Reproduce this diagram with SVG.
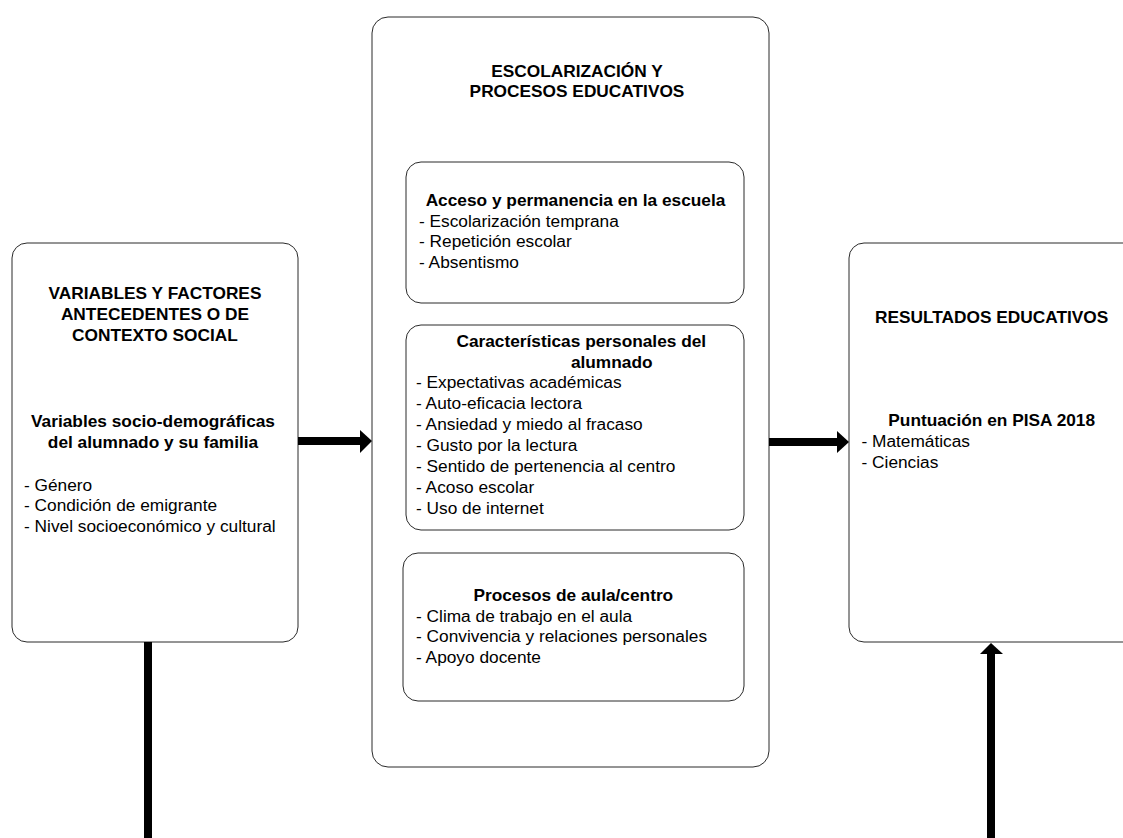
<svg xmlns="http://www.w3.org/2000/svg" width="1123" height="838" viewBox="0 0 1123 838">
<style>
.box{fill:#fff;stroke:#2a2a2a;stroke-width:1}
.t{font-family:"Liberation Sans",Arial,sans-serif;font-size:17.3px;fill:#000}
.b{font-weight:bold}
.c{text-anchor:middle}
.arr{fill:#000}
</style>
<rect width="1123" height="838" fill="#fff"/>
<g id="node-contexto">
<rect class="box" x="12" y="243" width="286" height="399" rx="15"/>
<text class="t b c" x="155" y="299">VARIABLES Y FACTORES</text>
<text class="t b c" x="155" y="320">ANTECEDENTES O DE</text>
<text class="t b c" x="155" y="341">CONTEXTO SOCIAL</text>
<text class="t b c" x="153" y="427">Variables socio-demográficas</text>
<text class="t b c" x="153" y="448">del alumnado y su familia</text>
<text class="t" x="24" y="490.5">- Género</text>
<text class="t" x="24" y="511.2">- Condición de emigrante</text>
<text class="t" x="24" y="532">- Nivel socioeconómico y cultural</text>
</g>
<g id="node-escolarizacion">
<rect class="box" x="372" y="17" width="397" height="750" rx="16"/>
<text class="t b c" x="577" y="76.5">ESCOLARIZACIÓN Y</text>
<text class="t b c" x="577" y="96.5">PROCESOS EDUCATIVOS</text>
</g>
<g id="node-acceso">
<rect class="box" x="406" y="162" width="338" height="141" rx="15"/>
<text class="t b c" x="575.5" y="206">Acceso y permanencia en la escuela</text>
<text class="t" x="419" y="226.7">- Escolarización temprana</text>
<text class="t" x="419" y="247.4">- Repetición escolar</text>
<text class="t" x="419" y="268.1">- Absentismo</text>
</g>
<g id="node-caracteristicas">
<rect class="box" x="406" y="325" width="338" height="205" rx="15"/>
<text class="t b c" x="581.3" y="347.3">Características personales del</text>
<text class="t b c" x="611.7" y="367.5">alumnado</text>
<text class="t" x="416" y="388.3">- Expectativas académicas</text>
<text class="t" x="416" y="409.3">- Auto-eficacia lectora</text>
<text class="t" x="416" y="430.3">- Ansiedad y miedo al fracaso</text>
<text class="t" x="416" y="451.3">- Gusto por la lectura</text>
<text class="t" x="416" y="472.3">- Sentido de pertenencia al centro</text>
<text class="t" x="416" y="493.3">- Acoso escolar</text>
<text class="t" x="416" y="514.3">- Uso de internet</text>
</g>
<g id="node-procesos">
<rect class="box" x="403" y="553" width="341" height="148" rx="15"/>
<text class="t b c" x="573.3" y="600.7">Procesos de aula/centro</text>
<text class="t" x="416" y="621.5">- Clima de trabajo en el aula</text>
<text class="t" x="416" y="642.3">- Convivencia y relaciones personales</text>
<text class="t" x="416" y="663">- Apoyo docente</text>
</g>
<g id="node-resultados">
<rect class="box" x="849" y="243" width="290" height="399" rx="15"/>
<text class="t b c" x="991.7" y="322.7">RESULTADOS EDUCATIVOS</text>
<text class="t b c" x="991.7" y="426">Puntuación en PISA 2018</text>
<text class="t" x="861.5" y="447">- Matemáticas</text>
<text class="t" x="861.5" y="467.8">- Ciencias</text>
</g>
<g id="connectors">
<rect class="arr" x="298" y="437" width="63" height="8"/>
<polygon class="arr" points="360,430 372,441 360,453"/>
<rect class="arr" x="769" y="438" width="69" height="8"/>
<polygon class="arr" points="837,431 849,442 837,453"/>
<rect class="arr" x="144" y="642" width="8" height="196"/>
<rect class="arr" x="987" y="653" width="8" height="185"/>
<polygon class="arr" points="980,654 991,643 1003,654"/>
</g>
</svg>
